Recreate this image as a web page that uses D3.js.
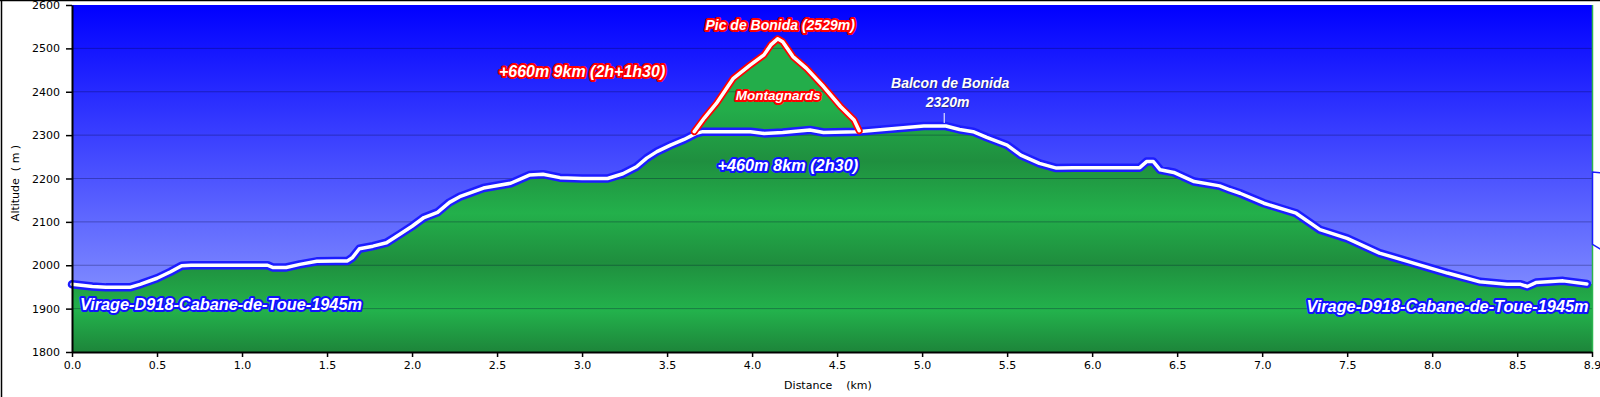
<!DOCTYPE html>
<html>
<head>
<meta charset="utf-8">
<script src="https://cdn.jsdelivr.net/npm/d3@7"></script>
<style>
  body { margin: 0; background: #fff; }
  svg { display: block; }
</style>
</head>
<body>
<div id="chart"></div>
<script>
// --- Data ---
// main route (km, m)
const routeDist = [0.00, 0.12, 0.20, 0.34, 0.40, 0.50, 0.58, 0.645, 0.70, 1.15, 1.18, 1.26, 1.34, 1.44, 1.55, 1.62,
  1.65, 1.69, 1.77, 1.85, 1.93, 2.00, 2.07, 2.15, 2.22, 2.28, 2.42, 2.58, 2.69, 2.77, 2.87, 3.00, 3.15, 3.24,
  3.32, 3.38, 3.44, 3.52, 3.60, 3.67, 3.71, 3.99, 4.07, 4.18, 4.34, 4.42, 4.62, 4.77, 5.01, 5.14, 5.22, 5.30,
  5.38, 5.50, 5.58, 5.69, 5.79, 5.89, 6.28, 6.32, 6.36, 6.40, 6.48, 6.60, 6.75, 6.81, 6.87, 7.01, 7.20, 7.34,
  7.50, 7.69, 7.89, 8.09, 8.28, 8.44, 8.52, 8.56, 8.61, 8.77, 8.91];
const routeAlt = [1956, 1951, 1949, 1949, 1956, 1970, 1985, 1999, 2000, 2000, 1995, 1995, 2002, 2009, 2010, 2010,
  2018, 2038, 2044, 2052, 2072, 2090, 2110, 2122, 2145, 2158, 2178, 2189, 2208, 2210, 2202, 2200, 2200, 2211,
  2227, 2247, 2262, 2277, 2290, 2304, 2308, 2308, 2304, 2306, 2312, 2306, 2308, 2313, 2321, 2321, 2313, 2308,
  2295, 2277, 2254, 2235, 2224, 2225, 2225, 2239, 2239, 2220, 2214, 2193, 2183, 2174, 2166, 2143, 2120, 2082,
  2062, 2028, 2005, 1982, 1962, 1956, 1956, 1951, 1960, 1964, 1957];

// variant to the summit (Montagnards)
const peakDist = [3.66, 3.72, 3.79, 3.89, 3.99, 4.07, 4.11, 4.15, 4.18, 4.24, 4.32, 4.42, 4.52, 4.60, 4.63];
const peakAlt = [2308, 2340, 2373, 2431, 2462, 2485, 2508, 2522, 2515, 2481, 2454, 2412, 2366, 2335, 2310];

const xTicks = [0, 0.5, 1, 1.5, 2, 2.5, 3, 3.5, 4, 4.5, 5, 5.5, 6, 6.5, 7, 7.5, 8, 8.5, 8.94];
const yTicks = [1800, 1900, 2000, 2100, 2200, 2300, 2400, 2500, 2600];

// labels: [text, km, altitude, kind]
const labels = [
  ["Pic de Bonida (2529m)", 4.165, 2554, "red14"],
  ["+660m 9km (2h+1h30)", 3.0, 2448, "red16"],
  ["Montagnards", 4.153, 2391, "red13"],
  ["+460m 8km (2h30)", 4.21, 2230, "blue16"],
  ["Balcon de Bonida", 5.165, 2420, "plain"],
  ["2320m", 5.15, 2376, "plain"],
  ["Virage-D918-Cabane-de-Toue-1945m", 0.876, 1910, "blue16"],
  ["Virage-D918-Cabane-de-Toue-1945m", 8.09, 1906, "blue16"]
];
const balconMark = [5.13, 2351, 2328];
const stubAlt = [2215, 2048];

// --- Layout ---
const W = 1600, H = 397;
const margin = { top: 5, right: 8, bottom: 45, left: 72 },
      width = W - margin.left - margin.right,
      height = H - margin.top - margin.bottom;

const svg = d3.select("#chart").append("svg")
    .attr("width", W)
    .attr("height", H);

const defs = svg.append("defs");
const sky = defs.append("linearGradient").attr("id", "sky")
    .attr("x1", 0).attr("y1", 0).attr("x2", 0).attr("y2", 1);
sky.append("stop").attr("offset", "0%").attr("stop-color", "#0000ff");
sky.append("stop").attr("offset", "100%").attr("stop-color", "#9aa8ff");

const green = defs.append("linearGradient").attr("id", "green")
    .attr("gradientUnits", "userSpaceOnUse")
    .attr("x1", 0).attr("y1", 0).attr("x2", 0).attr("y2", height);
[[0.3, "#23ad4a"], [0.45, "#1f8f3f"], [0.6, "#23b04b"], [0.74, "#1f8e3e"], [0.88, "#23b24c"], [1, "#1d853a"]]
  .forEach(s => green.append("stop").attr("offset", s[0]).attr("stop-color", s[1]));

// frame (top and left edges)
svg.append("line").attr("x1", 0).attr("x2", W).attr("y1", 0.5).attr("y2", 0.5)
    .attr("stroke", "#000").attr("stroke-width", 1.5);
svg.append("line").attr("x1", 1.5).attr("x2", 1.5).attr("y1", 0).attr("y2", H)
    .attr("stroke", "#000").attr("stroke-width", 1.5);

const g = svg.append("g")
    .attr("transform", `translate(${margin.left},${margin.top})`);

// Scales
const x = d3.scaleLinear().domain([0, 8.94]).range([0, width]);
const y = d3.scaleLinear().domain([1800, 2600]).range([height, 0]);

g.append("rect").attr("width", width).attr("height", height).attr("fill", "url(#sky)");

const route = routeDist.map((d, i) => [d, routeAlt[i]]);
const peak = peakDist.map((d, i) => [d, peakAlt[i]]);
// ground fill runs on to the right edge of the plot
const routeFill = route.concat([[x.domain()[1], routeAlt[routeAlt.length - 1]]]);

const area = d3.area().x(d => x(d[0])).y0(height).y1(d => y(d[1]));
const line = d3.line().x(d => x(d[0])).y(d => y(d[1]));

g.append("path").datum(peak).attr("d", area).attr("fill", "url(#green)");
g.append("path").datum(routeFill).attr("d", area).attr("fill", "url(#green)");

// grid
g.selectAll("line.grid")
  .data(yTicks.slice(1, -1))
  .enter().append("line")
    .attr("x1", 0).attr("x2", width)
    .attr("y1", d => y(d)).attr("y2", d => y(d))
    .attr("stroke", "#000030").attr("stroke-opacity", 0.3).attr("stroke-width", 1);

// right edge of plot
g.append("line").attr("x1", width + 0.5).attr("x2", width + 0.5).attr("y1", 0).attr("y2", height)
    .attr("stroke", "#2cb34e").attr("stroke-width", 1.5);

// cut-off box at the right border
g.append("path")
    .attr("d", `M${width + 12},${y(stubAlt[0]) + 1} L${width + 0.5},${y(stubAlt[0])} L${width + 0.5},${y(stubAlt[1])} L${width + 12},${y(stubAlt[1]) + 7}`)
    .attr("fill", "#fff").attr("stroke", "#1a1aff").attr("stroke-width", 1.5);

// profile lines
g.append("path").datum(route).attr("d", line).attr("fill", "none")
    .attr("stroke", "#1c1cff").attr("stroke-width", 8.5).attr("stroke-linejoin", "round").attr("stroke-linecap", "round");
g.append("path").datum(route).attr("d", line).attr("fill", "none")
    .attr("stroke", "#fff").attr("stroke-width", 3.5).attr("stroke-linejoin", "round").attr("stroke-linecap", "round");
g.append("path").datum(peak).attr("d", line).attr("fill", "none")
    .attr("stroke", "#ff0000").attr("stroke-width", 7).attr("stroke-linejoin", "round").attr("stroke-linecap", "round");
g.append("path").datum(peak).attr("d", line).attr("fill", "none")
    .attr("stroke", "#fff").attr("stroke-width", 3.5).attr("stroke-linejoin", "round").attr("stroke-linecap", "round");

// balcon marker
g.append("line")
    .attr("x1", x(balconMark[0])).attr("x2", x(balconMark[0]))
    .attr("y1", y(balconMark[1])).attr("y2", y(balconMark[2]))
    .attr("stroke", "#fff").attr("stroke-width", 1);

// labels
const styles = {
  red14: { size: 14, stroke: "#ff0000" },
  red16: { size: 16, stroke: "#ff0000" },
  red13: { size: 13.5, stroke: "#ff0000" },
  blue16: { size: 16.3, stroke: "#1010ff" },
  plain: { size: 14, stroke: null }
};
labels.forEach(([txt, d, a, kind]) => {
  const s = styles[kind];
  if (!s.stroke) {
    g.append("text")
      .attr("x", x(d) + 1).attr("y", y(a) + 1).attr("dy", "0.35em")
      .attr("text-anchor", "middle")
      .attr("font-family", "Liberation Sans, Arial, sans-serif")
      .attr("font-weight", "bold").attr("font-style", "italic")
      .attr("font-size", s.size + "px")
      .attr("fill", "#202050").attr("fill-opacity", 0.6)
      .text(txt);
  }
  const t = g.append("text")
    .attr("x", x(d)).attr("y", y(a)).attr("dy", "0.35em")
    .attr("text-anchor", "middle")
    .attr("font-family", "Liberation Sans, Arial, sans-serif")
    .attr("font-weight", "bold").attr("font-style", "italic")
    .attr("font-size", s.size + "px")
    .attr("fill", "#fff")
    .text(txt);
  if (s.stroke) {
    t.attr("stroke", s.stroke).attr("stroke-width", 4)
      .attr("stroke-linejoin", "round").attr("paint-order", "stroke");
  }
});

// Axes
const xAxis = g.append("g")
    .attr("transform", `translate(0,${height})`)
    .call(d3.axisBottom(x).tickValues(xTicks).tickFormat(d3.format(".1f")).tickSize(5).tickSizeOuter(0).tickPadding(4));
const yAxis = g.append("g")
    .call(d3.axisLeft(y).tickValues(yTicks).tickFormat(d3.format("d")).tickSize(6).tickSizeOuter(0).tickPadding(6));

[xAxis, yAxis].forEach(a => {
  a.select(".domain").attr("stroke", "#000").attr("stroke-width", 2);
  a.selectAll(".tick line").attr("stroke", "#000").attr("stroke-width", 1.5);
  a.selectAll("text").attr("font-family", "DejaVu Sans, Verdana, sans-serif")
    .attr("font-size", "11px").attr("fill", "#000");
});

// Axis titles
svg.append("text")
    .attr("x", 828).attr("y", 389)
    .attr("text-anchor", "middle")
    .attr("font-family", "DejaVu Sans, Verdana, sans-serif")
    .attr("font-size", "11px")
    .attr("xml:space", "preserve")
    .text("Distance    (km)");

svg.append("text")
    .attr("transform", "rotate(-90)")
    .attr("x", -183).attr("y", 19)
    .attr("text-anchor", "middle")
    .attr("font-family", "DejaVu Sans, Verdana, sans-serif")
    .attr("font-size", "11px")
    .attr("xml:space", "preserve")
    .text("Altitude  ( m )");
</script>
</body>
</html>
